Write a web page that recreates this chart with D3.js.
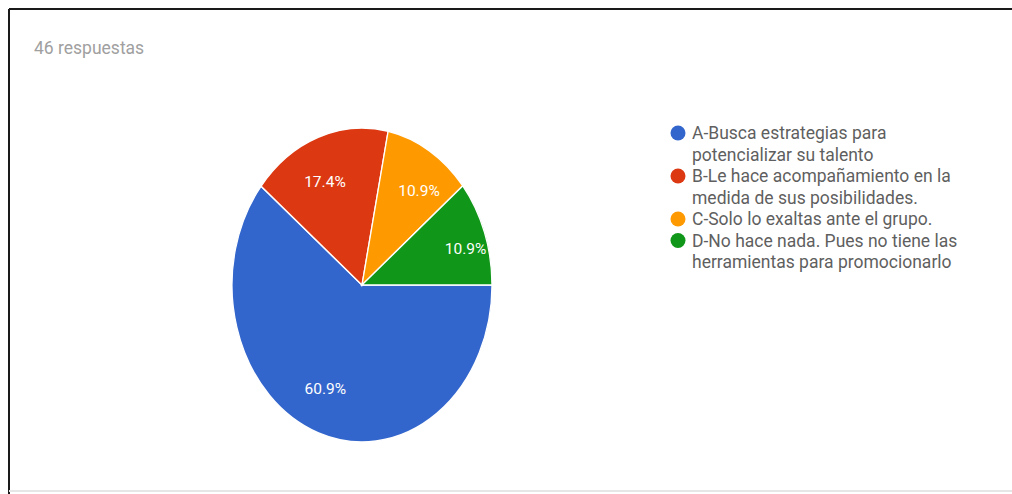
<!DOCTYPE html>
<html>
<head>
<meta charset="utf-8">
<script src="https://cdn.jsdelivr.net/npm/d3@7"></script>
<style>
  body { margin: 0; background: #fff; }
  svg { display: block; font-family: Roboto, "Noto Sans", sans-serif; }
</style>
</head>
<body>
<svg id="chart" width="1012" height="494"></svg>
<script>
// data
const categories = ["A", "B", "C", "D"];
const values = [60.9, 17.4, 10.9, 10.9];
const legendLines = [
    ["A-Busca estrategias para", "potencializar su talento"],
    ["B-Le hace acompañamiento en la", "medida de sus posibilidades."],
    ["C-Solo lo exaltas ante el grupo."],
    ["D-No hace nada. Pues no tiene las", "herramientas para promocionarlo"]
];
const colors = ["#3366cc", "#dc3912", "#ff9900", "#109618"];
const title = "46 respuestas";

const svg = d3.select("#chart");

// frame
svg.append("line").attr("x1", 9).attr("y1", 9).attr("x2", 1012).attr("y2", 9)
    .attr("stroke", "#1a1a1a").attr("stroke-width", 2);
svg.append("line").attr("x1", 9).attr("y1", 9).attr("x2", 9).attr("y2", 494)
    .attr("stroke", "#1a1a1a").attr("stroke-width", 2);
svg.append("line").attr("x1", 9).attr("y1", 491).attr("x2", 1012).attr("y2", 491)
    .attr("stroke", "#e6e6e6").attr("stroke-width", 2);

svg.append("text")
    .attr("x", 34).attr("y", 54)
    .attr("fill", "#a0a0a0")
    .style("font-size", "17.5px")
    .text(title);

//----------------------------------------------------------------------------------
// pie (stretched into an ellipse like the screenshot)

const cx = 362, cy = 285, rx = 130, ry = 157;
const color = d3.scaleOrdinal().domain(categories).range(colors);

const pie = d3.pie()
    .sort(null)
    .startAngle(Math.PI / 2)
    .endAngle(Math.PI / 2 + 2 * Math.PI);
const arcs = pie(values);

const arc = d3.arc().innerRadius(0).outerRadius(rx);
const labelArc = d3.arc().innerRadius(110).outerRadius(110); // labels don't follow the stretch

const g = svg.append("g").attr("transform", `translate(${cx},${cy})`);

g.append("g")
    .attr("transform", `scale(1,${ry / rx})`)
    .selectAll("path")
    .data(arcs)
    .join("path")
    .attr("d", arc)
    .attr("fill", (d, i) => color(categories[i]))
    .attr("stroke", "#fff")
    .attr("stroke-width", 1.3);

g.selectAll("text.pct")
    .data(arcs)
    .join("text")
    .attr("class", "pct")
    .attr("x", d => labelArc.centroid(d)[0])
    .attr("y", d => labelArc.centroid(d)[1])
    .attr("dy", "0.35em")
    .attr("text-anchor", "middle")
    .attr("fill", "#fff")
    .style("font-size", "15.5px")
    .text(d => d.value.toFixed(1) + "%");

//----------------------------------------------------------------------------------
// legend

const lineH = 21.5;
let y = 133;
const legend = svg.append("g");
legendLines.forEach((lines, i) => {
    legend.append("circle")
        .attr("cx", 678).attr("cy", y)
        .attr("r", 7.5)
        .attr("fill", color(categories[i]));
    lines.forEach((t, j) => {
        legend.append("text")
            .attr("x", 692).attr("y", y + j * lineH)
            .attr("dy", "0.35em")
            .attr("fill", "#5f5f5f")
            .style("font-size", "17.5px")
            .text(t);
    });
    y += lines.length * lineH;
});
</script>
</body>
</html>
